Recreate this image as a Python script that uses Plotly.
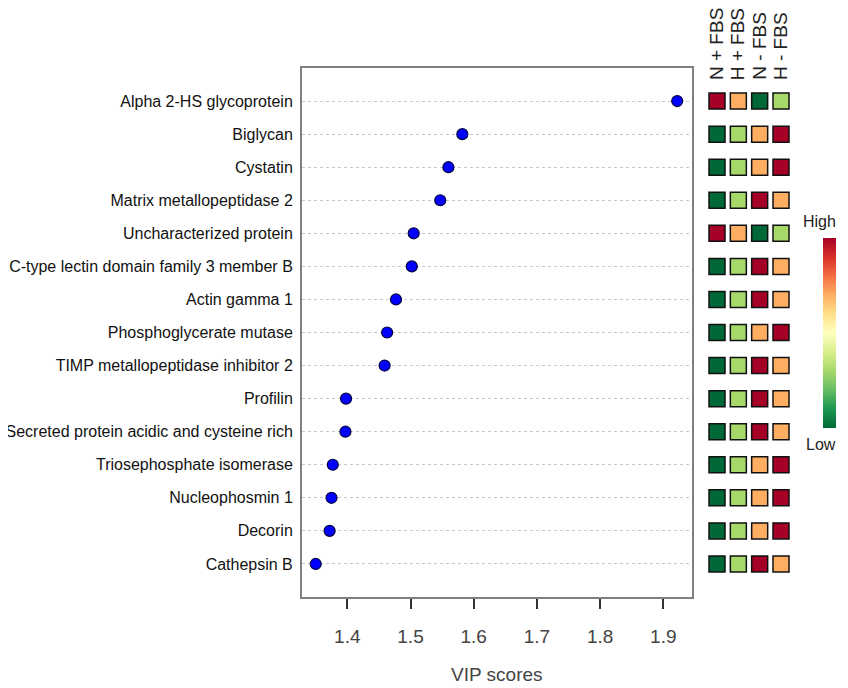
import plotly.graph_objects as go

# page is shown with the browser's 8px body margin, so positions are shifted by 8px
W, H = 832, 680
OFF = 8

proteins = [
    "Alpha 2-HS glycoprotein",
    "Biglycan",
    "Cystatin",
    "Matrix metallopeptidase 2",
    "Uncharacterized protein",
    "C-type lectin domain family 3 member B",
    "Actin gamma 1",
    "Phosphoglycerate mutase",
    "TIMP metallopeptidase inhibitor 2",
    "Profilin",
    "Secreted protein acidic and cysteine rich",
    "Triosephosphate isomerase",
    "Nucleophosmin 1",
    "Decorin",
    "Cathepsin B",
]
vip_scores = [1.922, 1.582, 1.560, 1.547, 1.505, 1.502, 1.477, 1.463, 1.459,
              1.398, 1.397, 1.377, 1.375, 1.372, 1.350]

groups = ["N + FBS", "H + FBS", "N - FBS", "H - FBS"]
# relative level (1 = low ... 4 = high) per protein, columns in order of groups
levels = [
    [4, 3, 1, 2],
    [1, 2, 3, 4],
    [1, 2, 3, 4],
    [1, 2, 4, 3],
    [4, 3, 1, 2],
    [1, 2, 4, 3],
    [1, 2, 4, 3],
    [1, 2, 3, 4],
    [1, 2, 4, 3],
    [1, 2, 4, 3],
    [1, 2, 4, 3],
    [1, 2, 3, 4],
    [1, 2, 3, 4],
    [1, 2, 3, 4],
    [1, 2, 4, 3],
]
x_ticks = [1.4, 1.5, 1.6, 1.7, 1.8, 1.9]

level_colors = {1: "#006837", 2: "#A6D96A", 3: "#FDAE61", 4: "#A50026"}


def px_x(p):
    return (p - OFF) / W


def px_y(p):
    return (H - (p - OFF)) / H


fig = go.Figure()

fig.add_trace(go.Scatter(
    x=vip_scores, y=proteins, mode="markers",
    marker=dict(size=11, color="#0000FF", line=dict(color="#000040", width=1.2)),
    xaxis="x", yaxis="y", showlegend=False, hoverinfo="x+y",
))

hx, hy, hc = [], [], []
for prot, row in zip(proteins, levels):
    for j, lv in enumerate(row):
        hx.append(j + 1)
        hy.append(prot)
        hc.append(level_colors[lv])

fig.add_trace(go.Scatter(
    x=hx, y=hy, mode="markers",
    marker=dict(symbol="square", size=16, color=hc, line=dict(color="#111111", width=1.5)),
    xaxis="x2", yaxis="y3", showlegend=False, hoverinfo="skip",
))

# colour key
fig.add_trace(go.Scatter(
    x=[-10], y=[proteins[0]], mode="markers",
    marker=dict(size=1, color=[0.5], cmin=0, cmax=1, colorscale="RdYlGn_r",
                showscale=True,
                colorbar=dict(
                    x=px_x(823), xanchor="left", xpad=0, ypad=0,
                    y=px_y(333), yanchor="middle",
                    thicknessmode="pixels", thickness=13,
                    lenmode="pixels", len=190,
                    outlinewidth=0, showticklabels=False, ticks="",
                )),
    xaxis="x2", yaxis="y3", showlegend=False, hoverinfo="skip",
))

ydom = [px_y(597), px_y(68)]
fig.update_layout(
    width=W, height=H, template="none",
    paper_bgcolor="white", plot_bgcolor="white",
    margin=dict(l=0, r=0, t=0, b=0),
    font=dict(family="Liberation Sans, Arial, sans-serif", color="#222"),
    xaxis=dict(
        domain=[px_x(302), px_x(692)], range=[1.3283, 1.9454],
        tickvals=x_ticks, ticktext=[f"{v:.1f}" for v in x_ticks],
        ticks="outside", ticklen=10, tickwidth=1.5, tickcolor="#333",
        tickfont=dict(size=19, color="#444"), ticklabelstandoff=11,
        showgrid=False, zeroline=False,
        showline=True, mirror=True, linecolor="#808080", linewidth=2,
        anchor="y", automargin=False,
    ),
    yaxis=dict(
        domain=ydom, type="category", categoryorder="array", categoryarray=proteins,
        range=[len(proteins), -1],
        tickfont=dict(size=16, color="#111"), ticks="", ticklabelstandoff=4,
        showgrid=True, gridcolor="#C8C8C8", griddash="dot", gridwidth=1,
        showline=True, mirror=True, linecolor="#808080", linewidth=2,
        zeroline=False, anchor="x", automargin=False,
    ),
    xaxis2=dict(
        domain=[px_x(705), px_x(795)], range=[0.4375, 4.656],
        visible=False, anchor="y3",
    ),
    yaxis3=dict(
        domain=ydom, type="category", categoryorder="array", categoryarray=proteins,
        range=[len(proteins), -1], visible=False, anchor="x2",
    ),
)

annotations = []
for j, g in enumerate(groups):
    annotations.append(dict(
        x=j + 1, xref="x2", y=px_y(82), yref="paper",
        text=g, textangle=-90, showarrow=False,
        xanchor="center", yanchor="bottom",
        font=dict(size=19, color="#222"),
    ))
annotations.append(dict(x=px_x(838), y=px_y(221), xref="paper", yref="paper",
                        text="High", showarrow=False, font=dict(size=16, color="#222"),
                        xanchor="right", yanchor="middle"))
annotations.append(dict(x=px_x(838), y=px_y(445), xref="paper", yref="paper",
                        text="Low", showarrow=False, font=dict(size=16, color="#222"),
                        xanchor="right", yanchor="middle"))
annotations.append(dict(x=px_x(497), y=px_y(687), xref="paper", yref="paper",
                        text="VIP scores", showarrow=False, font=dict(size=19, color="#444"),
                        xanchor="center", yanchor="bottom"))
fig.update_layout(annotations=annotations)

fig.write_html("out.html")
